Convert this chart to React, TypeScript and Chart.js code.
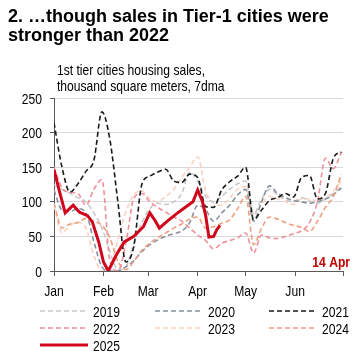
import React, { useEffect, useRef } from "react";
import { Chart, registerables } from "chart.js";
Chart.register(...registerables);

// ---------- data ----------
const titleLines = ["2. …though sales in Tier-1 cities were", "stronger than 2022"];
const subtitleLines = ["1st tier cities housing sales,", "thousand square meters, 7dma"];
const endLabel = "14 Apr";
const monthTicks = [0, 31, 59, 90, 120, 151, 181];
const monthLabels = ["Jan", "Feb", "Mar", "Apr", "May", "Jun", ""];
const yTicks = [0, 50, 100, 150, 200, 250];
const seriesNames = ["2019", "2020", "2021", "2022", "2023", "2024", "2025"];

// day-of-year index (0 = 1 Jan), every 5 days
const gridDays = [0, 5, 10, 15, 20, 25, 30, 35, 40, 45, 50, 55, 60, 65, 70, 75, 80, 85, 90, 95, 100, 105, 110, 115, 120, 125, 130, 135, 140, 145, 150, 155, 160, 165, 170, 175, 180];
const sales2019 = [124, 118, 112, 106, 100, 84, 62, 28, 2, 6, 40, 70, 90, 98, 96, 100, 112, 143, 130, 108, 100, 108, 118, 126, 130, 82, 104, 118, 110, 103, 100, 106, 101, 98, 104, 112, 122];
const sales2020 = [117, 88, 86, 90, 84, 42, 6, 0, 0, 6, 15, 28, 38, 45, 50, 54, 58, 70, 95, 88, 72, 84, 95, 110, 118, 72, 100, 123, 112, 106, 102, 100, 98, 100, 104, 110, 120];
const sales2021 = [214, 150, 114, 126, 144, 160, 230, 190, 100, 13, 36, 125, 137, 143, 147, 130, 128, 140, 135, 93, 92, 117, 129, 137, 150, 74, 88, 102, 106, 112, 107, 135, 138, 104, 112, 163, 172];
const sales2022 = [150, 120, 114, 112, 95, 118, 132, 15, 0, 40, 105, 112, 100, 92, 85, 78, 72, 62, 52, 44, 32, 40, 44, 48, 55, 26, 52, 48, 47, 50, 54, 58, 70, 100, 163, 148, 172];
const sales2023 = [95, 55, 66, 70, 62, 22, 0, 6, 45, 85, 110, 116, 104, 100, 108, 118, 135, 150, 165, 115, 98, 95, 105, 118, 122, 82, 96, 108, 104, 100, 96, 104, 104, 100, 106, 116, 130];
const sales2024 = [98, 62, 68, 70, 76, 72, 66, 48, 14, 2, 14, 30, 40, 48, 55, 62, 68, 75, 78, 62, 64, 69, 74, 90, 108, 38, 62, 78, 75, 70, 66, 63, 57, 72, 92, 108, 140];
const days2025 = [0, 4, 7, 12, 16, 21, 24, 28, 31, 34, 39, 44, 50, 56, 60, 63, 66, 71, 78, 87, 90, 93, 95, 97, 100, 102, 104];
const sales2025 = [146, 110, 84, 95, 85, 80, 71, 42, 13, 0, 23, 42, 50, 64, 84, 74, 62, 72, 85, 100, 117, 100, 80, 49, 50, 60, 66];

// ---------- fonts ----------
function pickFamily(cands: string[], fallback: string): string {
  const c = document.createElement("canvas").getContext("2d")!;
  const t = "abcdefghijklmnopqrstuvwxyz0123456789ABCDEF";
  c.font = "40px monospace";
  const wm = c.measureText(t).width;
  c.font = "40px serif";
  const ws = c.measureText(t).width;
  for (const f of cands) {
    c.font = `40px "${f}", monospace`;
    const a = c.measureText(t).width;
    c.font = `40px "${f}", serif`;
    const b = c.measureText(t).width;
    if (a !== wm || b !== ws) return f;
  }
  return fallback;
}
const NARROW = pickFamily(["Liberation Sans Narrow", "Arial Narrow", "Nimbus Sans Narrow"], "Liberation Sans");
const FAM = `"${NARROW}", "Liberation Sans", Arial, sans-serif`;
const FS = 15;
function fitScale(): number {
  const c = document.createElement("canvas").getContext("2d")!;
  c.font = `${FS}px ${FAM}`;
  const w = c.measureText(subtitleLines[0]).width;
  return Math.max(0.7, Math.min(1, 148 / w));
}
const KX = fitScale();

function drawText(
  ctx: CanvasRenderingContext2D,
  text: string,
  x: number,
  y: number,
  align: CanvasTextAlign,
  color: string,
  bold = false
) {
  ctx.save();
  ctx.translate(x, y);
  ctx.scale(KX, 1);
  ctx.font = `${bold ? "bold " : ""}${FS}px ${FAM}`;
  ctx.fillStyle = color;
  ctx.textAlign = align;
  ctx.textBaseline = "alphabetic";
  ctx.fillText(text, 0, 0);
  ctx.restore();
}

export default function App() {
  const ref = useRef<HTMLCanvasElement>(null);

  useEffect(() => {
    const pts = (d: number[], v: number[]) => d.map((x, i) => ({ x, y: v[i] }));
    const styles = [
      { color: "#c8c8c8", width: 1.6, dash: [5, 3], order: 6 },
      { color: "#87919e", width: 1.6, dash: [5, 3], order: 5 },
      { color: "#1a1a1a", width: 1.6, dash: [5, 3], order: 1 },
      { color: "#f0909a", width: 1.6, dash: [5, 3], order: 3 },
      { color: "#f9d2c0", width: 1.6, dash: [5, 3], order: 7 },
      { color: "#f0a080", width: 1.6, dash: [5, 3], order: 4 },
      { color: "#d0061c", width: 3, dash: [] as number[], order: 0 },
    ];
    const series = [
      pts(gridDays, sales2019),
      pts(gridDays, sales2020),
      pts(gridDays, sales2021),
      pts(gridDays, sales2022),
      pts(gridDays, sales2023),
      pts(gridDays, sales2024),
      pts(days2025, sales2025),
    ];
    const datasets = series.map((data, i) => ({
      label: seriesNames[i],
      data,
      borderColor: styles[i].color,
      backgroundColor: styles[i].color,
      borderWidth: styles[i].width,
      borderDash: styles[i].dash,
      order: styles[i].order,
      pointRadius: 0,
      tension: i === 6 ? 0 : 0.3,
      cubicInterpolationMode: i === 6 ? "default" : "monotone",
      fill: false,
    }));

    const legendX = [32, 147, 261];
    const legendY = [303, 320, 337];
    const overlay = {
      id: "overlay",
      afterDraw(chart: any) {
        const ctx = chart.ctx as CanvasRenderingContext2D;
        const xs = chart.scales.x;
        const ys = chart.scales.y;
        // axis labels placed with the scales
        monthTicks.forEach((v, i) => {
          if (monthLabels[i]) drawText(ctx, monthLabels[i], xs.getPixelForValue(v), xs.top + 25, "center", "#000");
        });
        yTicks.forEach((v) => {
          drawText(ctx, String(v), ys.right - 12, ys.getPixelForValue(v) + 5.5, "right", "#000");
        });
        // legend
        chart.data.datasets.forEach((ds: any, i: number) => {
          const x0 = legendX[i % 3];
          const y = legendY[Math.floor(i / 3)];
          ctx.save();
          ctx.beginPath();
          ctx.setLineDash(ds.borderDash || []);
          ctx.strokeStyle = ds.borderColor;
          ctx.lineWidth = ds.borderWidth;
          ctx.moveTo(x0, y);
          ctx.lineTo(x0 + 48, y);
          ctx.stroke();
          ctx.restore();
          drawText(ctx, ds.label, x0 + 53, y + 5.5, "left", "#000");
        });
        drawText(ctx, endLabel, 342, 259, "right", "#c00000", true);
      },
    };

    const chart = new Chart(ref.current!, {
      type: "line",
      data: { datasets: datasets as any },
      options: {
        animation: false,
        responsive: false,
        layout: { padding: { top: 90, right: 10, bottom: 60, left: 0 } },
        plugins: { legend: { display: false }, tooltip: { enabled: false } },
        scales: {
          x: {
            type: "linear",
            min: monthTicks[0],
            max: monthTicks[monthTicks.length - 1],
            afterBuildTicks: (s: any) => {
              s.ticks = monthTicks.map((v) => ({ value: v }));
            },
            afterFit: (s: any) => {
              s.height = 27;
            },
            ticks: { display: false, autoSkip: false, maxRotation: 0 },
            grid: { drawOnChartArea: false, tickLength: 5, tickColor: "#595959", color: "#595959" },
            border: { color: "#595959", width: 1 },
          },
          y: {
            min: yTicks[0],
            max: yTicks[yTicks.length - 1],
            afterBuildTicks: (s: any) => {
              s.ticks = yTicks.map((v) => ({ value: v }));
            },
            afterFit: (s: any) => {
              s.width = 46;
            },
            ticks: { display: false },
            grid: {
              color: (c: any) => (c.tick && c.tick.value === 0 ? "rgba(0,0,0,0)" : "#d9d9d9"),
              tickColor: "#595959",
              tickLength: 4,
            },
            border: { color: "#595959", width: 1 },
          },
        },
      },
      plugins: [overlay],
    });
    return () => chart.destroy();
  }, []);

  return (
    <div style={{ position: "relative", width: 345, height: 350 }}>
      <div style={{ position: "absolute", left: 0, top: 0, width: 345, height: 350 }}>
        <canvas ref={ref} width={345} height={350} style={{ display: "block" }} />
      </div>
      <div
        style={{
          position: "absolute",
          left: 0,
          top: -1.5,
          font: 'bold 18px/19.5px "Liberation Sans", Arial, sans-serif',
          color: "#000",
          whiteSpace: "nowrap",
        }}
      >
        {titleLines[0]}
        <br />
        {titleLines[1]}
      </div>
      <div
        style={{
          position: "absolute",
          left: 49,
          top: 54,
          fontFamily: FAM,
          fontSize: FS,
          lineHeight: "16px",
          color: "#000",
          whiteSpace: "nowrap",
          transform: `scaleX(${KX})`,
          transformOrigin: "0 0",
        }}
      >
        {subtitleLines[0]}
        <br />
        {subtitleLines[1]}
      </div>
    </div>
  );
}
